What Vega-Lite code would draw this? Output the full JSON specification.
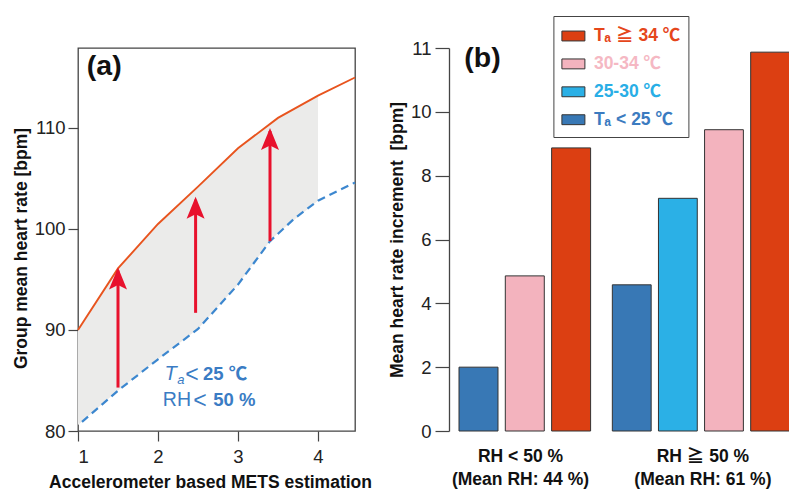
{
  "$schema": "https://vega.github.io/schema/vega-lite/v6.json",
  "background": "white",
  "padding": {"left": 11, "top": 15, "right": 0, "bottom": 2},
  "config": {
    "view": {"stroke": null},
    "font": "Liberation Sans, Noto Sans CJK JP",
    "axis": {
      "grid": false,
      "labelFont": "Liberation Sans",
      "labelFontSize": 18.5,
      "labelColor": "#222222",
      "tickColor": "#444444",
      "tickWidth": 1.2,
      "domainColor": "#444444",
      "domainWidth": 1.3,
      "titleFont": "Liberation Sans, Noto Sans CJK JP",
      "titleFontSize": 17.5,
      "titleFontWeight": "bold",
      "titleColor": "#111111"
    }
  },
  "datasets": {
    "fig_a": [
      {"series": "band", "mets": 1, "hr": 90, "hr2": 80.6},
      {"series": "band", "mets": 1.5, "hr": 96.1, "hr2": 84.0},
      {"series": "band", "mets": 2, "hr": 100.5, "hr2": 87.1},
      {"series": "band", "mets": 2.5, "hr": 104.2, "hr2": 90.1},
      {"series": "band", "mets": 3, "hr": 108, "hr2": 94.5},
      {"series": "band", "mets": 3.4, "hr": 110.4, "hr2": 98.8},
      {"series": "band", "mets": 3.5, "hr": 111, "hr2": 99.6},
      {"series": "band", "mets": 4, "hr": 113.2, "hr2": 102.8},
      {"series": "hot", "mets": 1, "hr": 90},
      {"series": "hot", "mets": 1.5, "hr": 96.1},
      {"series": "hot", "mets": 2, "hr": 100.5},
      {"series": "hot", "mets": 2.5, "hr": 104.2},
      {"series": "hot", "mets": 3, "hr": 108},
      {"series": "hot", "mets": 3.5, "hr": 111},
      {"series": "hot", "mets": 4, "hr": 113.2},
      {"series": "hot", "mets": 4.4625, "hr": 115},
      {"series": "cool", "mets": 1.05, "hr": 80.9},
      {"series": "cool", "mets": 1.5, "hr": 84.0},
      {"series": "cool", "mets": 2, "hr": 87.1},
      {"series": "cool", "mets": 2.5, "hr": 90.1},
      {"series": "cool", "mets": 3, "hr": 94.5},
      {"series": "cool", "mets": 3.4, "hr": 98.8},
      {"series": "cool", "mets": 3.7, "hr": 101.0},
      {"series": "cool", "mets": 4, "hr": 102.8},
      {"series": "cool", "mets": 4.4625, "hr": 104.6},
      {"series": "arrow", "mets": 1.5, "hr": 95.9, "hr2": 84.3},
      {"series": "arrow", "mets": 2.47, "hr": 102.9, "hr2": 91.7},
      {"series": "arrow", "mets": 3.4, "hr": 109.7, "hr2": 98.8},
      {"series": "t_it", "mets": 2.08, "hr": 85.05, "txt": "T"},
      {"series": "t_sub", "mets": 2.24, "hr": 84.7, "txt": "a"},
      {"series": "t_lt", "mets": 2.34, "hr": 85.05, "txt": "<"},
      {"series": "t_bold", "mets": 2.5625, "hr": 85.05, "txt": "25 ℃"},
      {"series": "t_reg", "mets": 2.06, "hr": 82.48, "txt": "RH"},
      {"series": "t_lt", "mets": 2.44, "hr": 82.48, "txt": "<"},
      {"series": "t_bold", "mets": 2.69, "hr": 82.48, "txt": "50 %"},
      {"series": "panel", "mets": 1.11, "hr": 115.25, "txt": "(a)"}
    ],
    "fig_b": [
      {"kind": "bar", "rh": "lo", "temp": "Tₐ < 25 ℃", "inc": 2.0},
      {"kind": "bar", "rh": "lo", "temp": "30-34 ℃", "inc": 4.86},
      {"kind": "bar", "rh": "lo", "temp": "Tₐ ≧ 34 ℃", "inc": 8.87},
      {"kind": "bar", "rh": "hi", "temp": "Tₐ < 25 ℃", "inc": 4.58},
      {"kind": "bar", "rh": "hi", "temp": "25-30 ℃", "inc": 7.29},
      {"kind": "bar", "rh": "hi", "temp": "30-34 ℃", "inc": 9.44},
      {"kind": "bar", "rh": "hi", "temp": "Tₐ ≧ 34 ℃", "inc": 11.87},
      {"kind": "panel", "rh": "lo", "temp": "Tₐ < 25 ℃", "inc": 11.4, "txt": "(b)"}
    ]
  },
  "bounds": "flush",
  "spacing": 94,
  "hconcat": [
    {
      "width": 277,
      "height": 383,
      "view": {"stroke": "#444444", "strokeWidth": 1.3},
      "data": {"name": "fig_a"},
      "encoding": {
        "x": {
          "field": "mets", "type": "quantitative",
          "scale": {"domain": [1, 4.4625], "nice": false, "zero": false},
          "axis": {"values": [1, 2, 3, 4], "tickSize": 10, "labelPadding": 6, "domain": false, "titlePadding": 8, "titleX": 132, "title": "Accelerometer based METS estimation"}
        },
        "y": {
          "field": "hr", "type": "quantitative",
          "scale": {"domain": [80, 117.92], "nice": false, "zero": false},
          "axis": {"values": [80, 90, 100, 110], "tickSize": 10, "labelPadding": 3, "domain": false, "titlePadding": 4, "titleY": 200, "title": "Group mean heart rate [bpm]"}
        }
      },
      "layer": [
        {
          "transform": [{"filter": "datum.series == 'band'"}],
          "mark": {"type": "area", "color": "#ebebea", "opacity": 1},
          "encoding": {"y2": {"field": "hr2"}}
        },
        {
          "transform": [{"filter": "datum.series == 'cool'"}],
          "mark": {"type": "line", "color": "#3c87cf", "strokeWidth": 2.2, "strokeDash": [8, 5]}
        },
        {
          "transform": [{"filter": "datum.series == 'hot'"}],
          "mark": {"type": "line", "color": "#e8541e", "strokeWidth": 1.9}
        },
        {
          "transform": [{"filter": "datum.series == 'arrow'"}],
          "mark": {"type": "rule", "color": "#e8112d", "strokeWidth": 3},
          "encoding": {"y2": {"field": "hr2"}}
        },
        {
          "transform": [{"filter": "datum.series == 'arrow'"}],
          "mark": {"type": "point", "shape": "M0,-0.3L0.9,1.9L0,1.45L-0.9,1.9Z", "size": 400, "filled": true, "opacity": 1, "color": "#e8112d", "strokeWidth": 0}
        },
        {
          "transform": [{"filter": "datum.series == 't_it'"}],
          "mark": {"type": "text", "align": "left", "baseline": "alphabetic", "fontSize": 20, "fontStyle": "italic", "color": "#3a7cc4", "font": "Liberation Sans"},
          "encoding": {"text": {"field": "txt"}}
        },
        {
          "transform": [{"filter": "datum.series == 't_sub'"}],
          "mark": {"type": "text", "align": "left", "baseline": "alphabetic", "fontSize": 13, "fontStyle": "italic", "color": "#3a7cc4", "font": "Liberation Sans"},
          "encoding": {"text": {"field": "txt"}}
        },
        {
          "transform": [{"filter": "datum.series == 't_reg'"}],
          "mark": {"type": "text", "align": "left", "baseline": "alphabetic", "fontSize": 19.5, "color": "#3a7cc4", "font": "Liberation Sans"},
          "encoding": {"text": {"field": "txt"}}
        },
        {
          "transform": [{"filter": "datum.series == 't_lt'"}],
          "mark": {"type": "text", "align": "left", "baseline": "alphabetic", "dy": 2, "fontSize": 23, "color": "#3a7cc4", "font": "Liberation Sans"},
          "encoding": {"text": {"field": "txt"}}
        },
        {
          "transform": [{"filter": "datum.series == 't_bold'"}],
          "mark": {"type": "text", "align": "left", "baseline": "alphabetic", "fontSize": 18.5, "fontWeight": "bold", "color": "#3a7cc4", "font": "Liberation Sans, Noto Sans CJK JP"},
          "encoding": {"text": {"field": "txt"}}
        },
        {
          "transform": [{"filter": "datum.series == 'panel'"}],
          "mark": {"type": "text", "align": "left", "baseline": "alphabetic", "fontSize": 28.5, "fontWeight": "bold", "color": "#111111", "font": "Liberation Sans"},
          "encoding": {"text": {"field": "txt"}}
        }
      ]
    },
    {
      "bounds": "flush",
      "spacing": 0,
      "resolve": {"legend": {"color": "independent"}},
      "hconcat": [
        {
          "width": 151.6,
          "height": 383,
          "data": {"name": "fig_b"},
          "transform": [{"filter": "datum.rh == 'lo'"}],
          "encoding": {
            "x": {
              "field": "temp", "type": "nominal",
              "scale": {"domain": ["Tₐ < 25 ℃", "30-34 ℃", "Tₐ ≧ 34 ℃"], "paddingInner": 0.158, "paddingOuter": 0.216},
              "axis": {"labels": false, "ticks": false, "domain": false, "title": ["RH < 50 %", "(Mean RH: 44 %)"], "titlePadding": 16, "titleLineHeight": 23, "titleX": 71}
            },
            "y": {
              "field": "inc", "type": "quantitative",
              "scale": {"domain": [0, 12], "nice": false},
              "axis": {"values": [0, 2, 4, 6, 8, 10, 12], "labelExpr": "datum.value == 12 ? '11' : datum.label", "tickSize": 14, "labelPadding": 4, "titlePadding": 4, "title": "Mean heart rate increment\u00a0 [bpm]"}
            }
          },
          "layer": [
            {
              "transform": [{"filter": "datum.kind == 'bar'"}],
              "mark": {"type": "bar", "stroke": "#333333", "strokeWidth": 1},
              "encoding": {
                "color": {
                  "field": "temp", "type": "nominal",
                  "scale": {"domain": ["Tₐ ≧ 34 ℃", "30-34 ℃", "25-30 ℃", "Tₐ < 25 ℃"], "range": ["#dc3f12", "#f3b3be", "#2bb0e6", "#3878b5"]},
                  "legend": null
                }
              }
            },
            {
              "transform": [{"filter": "datum.kind == 'panel'"}],
              "mark": {"type": "text", "align": "center", "dx": 4, "baseline": "alphabetic", "fontSize": 28.5, "fontWeight": "bold", "color": "#111111", "font": "Liberation Sans"},
              "encoding": {"text": {"field": "txt"}}
            }
          ]
        },
        {
          "width": 188.5,
          "height": 383,
          "data": {"name": "fig_b"},
          "transform": [{"filter": "datum.rh == 'hi' && datum.kind == 'bar'"}],
          "mark": {"type": "bar", "stroke": "#333333", "strokeWidth": 1},
          "encoding": {
            "x": {
              "field": "temp", "type": "nominal",
              "scale": {"domain": ["Tₐ < 25 ℃", "25-30 ℃", "30-34 ℃", "Tₐ ≧ 34 ℃"], "paddingInner": 0.158, "paddingOuter": 0.123, "align": 1},
              "axis": {"labels": false, "ticks": false, "domain": false, "title": ["RH ≧ 50 %", "(Mean RH: 61 %)"], "titlePadding": 16, "titleLineHeight": 23, "titleX": 101.4}
            },
            "y": {
              "field": "inc", "type": "quantitative",
              "scale": {"domain": [0, 12], "nice": false},
              "axis": null
            },
            "color": {
              "field": "temp", "type": "nominal",
              "scale": {"domain": ["Tₐ ≧ 34 ℃", "30-34 ℃", "25-30 ℃", "Tₐ < 25 ℃"], "range": ["#dc3f12", "#f3b3be", "#2bb0e6", "#3878b5"]},
              "legend": {
                "title": null,
                "orient": "none",
                "legendX": -47.6,
                "legendY": -32,
                "direction": "vertical",
                "strokeColor": "#444444",
                "fillColor": "white",
                "padding": 8,
                "symbolType": "M-1,-0.43H1V0.43H-1Z",
                "symbolSize": 529,
                "symbolStrokeColor": "#333333",
                "symbolStrokeWidth": 1,
                "symbolOpacity": 1,
                "labelFont": "Liberation Sans, Noto Sans CJK JP",
                "labelFontSize": 17.5,
                "labelFontWeight": "bold",
                "labelOffset": 8.5,
                "rowPadding": 6.9,
                "labelLimit": 200,
                "labelColor": {"expr": "datum.value == 'Tₐ ≧ 34 ℃' ? '#e5461b' : datum.value == '30-34 ℃' ? '#f5b8c3' : datum.value == '25-30 ℃' ? '#29aee6' : '#3b7bc0'"}
              }
            }
          }
        }
      ]
    }
  ]
}
